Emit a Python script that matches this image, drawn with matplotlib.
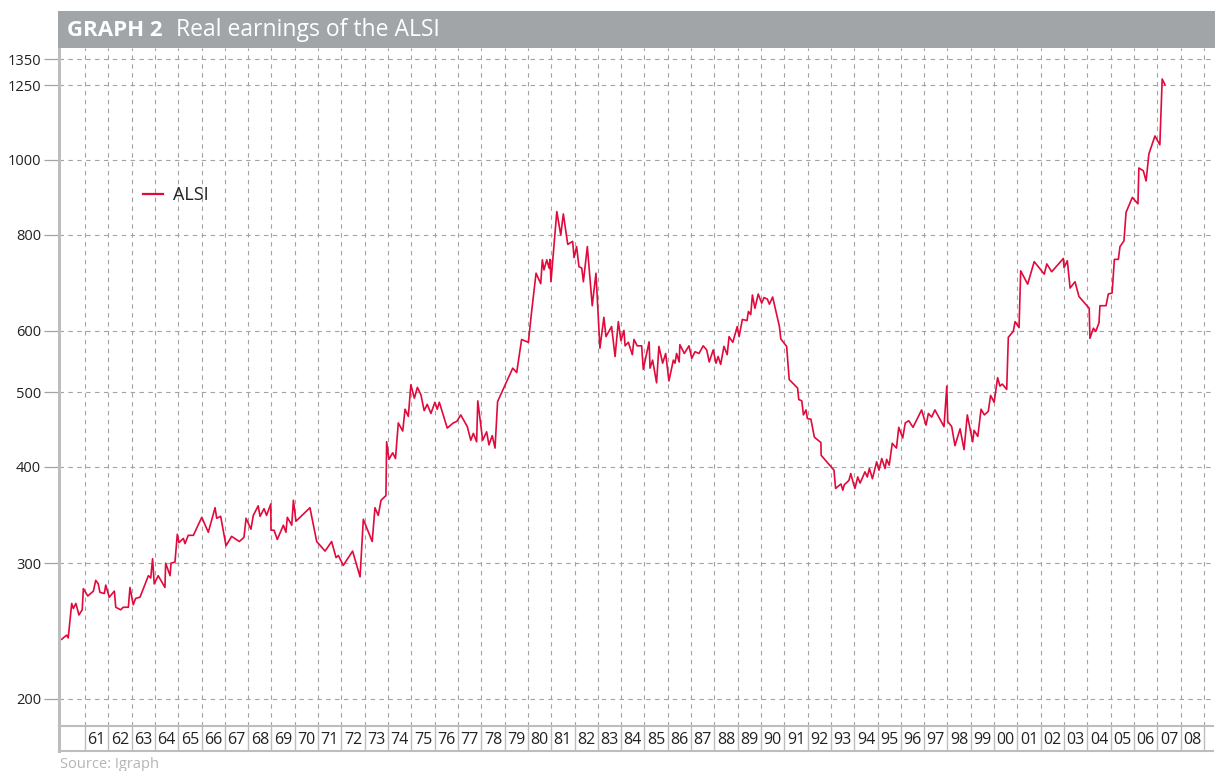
import matplotlib
matplotlib.use("Agg")
import matplotlib.pyplot as plt
from matplotlib.patches import Rectangle
from matplotlib.ticker import NullLocator

plt.rcParams['font.family'] = ['Open Sans', 'DejaVu Sans']

# ---------------- data ----------------
years = [1960.00,1960.21,1960.28,1960.43,1960.50,1960.61,1960.74,1960.88,1960.93,1961.12,
         1961.36,1961.46,1961.57,1961.64,1961.83,1961.89,1962.04,1962.26,1962.32,1962.53,
         1962.64,1962.86,1962.93,1963.07,1963.17,1963.36,1963.72,1963.82,1963.90,1963.97,
         1964.14,1964.43,1964.46,1964.65,1964.69,1964.86,1964.96,1965.03,1965.22,1965.29,
         1965.43,1965.65,1966.01,1966.29,1966.58,1966.65,1966.82,1967.05,1967.29,1967.62,
         1967.82,1967.91,1968.12,1968.22,1968.43,1968.51,1968.68,1968.79,1968.97,1968.98,
         1969.11,1969.25,1969.51,1969.62,1969.68,1969.87,1969.94,1970.05,1970.65,1970.94,
         1971.30,1971.58,1971.77,1971.87,1972.08,1972.48,1972.80,1972.94,1973.32,1973.44,
         1973.58,1973.70,1973.91,1973.94,1974.04,1974.20,1974.32,1974.44,1974.63,1974.73,
         1974.87,1974.98,1975.13,1975.26,1975.41,1975.55,1975.68,1975.84,1976.01,1976.11,
         1976.20,1976.54,1976.80,1976.95,1977.12,1977.40,1977.55,1977.66,1977.80,1977.85,
         1978.06,1978.23,1978.33,1978.47,1978.59,1978.70,1979.35,1979.52,1979.73,1980.02,
         1980.16,1980.35,1980.55,1980.62,1980.69,1980.81,1980.91,1980.95,1980.99,1981.24,
         1981.41,1981.52,1981.71,1981.92,1981.98,1982.09,1982.19,1982.31,1982.38,1982.55,
         1982.76,1982.92,1983.09,1983.26,1983.35,1983.59,1983.74,1983.88,1983.99,1984.12,
         1984.17,1984.31,1984.48,1984.55,1984.69,1984.88,1984.95,1985.20,1985.24,1985.35,
         1985.52,1985.62,1985.78,1985.91,1986.05,1986.24,1986.31,1986.38,1986.49,1986.52,
         1986.71,1986.91,1987.03,1987.17,1987.34,1987.52,1987.67,1987.78,1987.95,1988.07,
         1988.16,1988.27,1988.41,1988.55,1988.63,1988.79,1988.98,1989.06,1989.20,1989.40,
         1989.46,1989.56,1989.63,1989.74,1989.88,1990.03,1990.13,1990.27,1990.36,1990.50,
         1990.79,1990.85,1991.10,1991.21,1991.57,1991.62,1991.75,1991.82,1991.93,1991.99,
         1992.14,1992.29,1992.57,1992.58,1993.13,1993.20,1993.43,1993.51,1993.57,1993.77,
         1993.85,1993.96,1994.03,1994.15,1994.25,1994.46,1994.56,1994.65,1994.78,1994.96,
         1995.06,1995.18,1995.32,1995.39,1995.50,1995.63,1995.81,1995.91,1996.08,1996.19,
         1996.34,1996.52,1996.89,1997.08,1997.18,1997.32,1997.46,1997.85,1997.97,1998.01,
         1998.18,1998.32,1998.54,1998.71,1998.85,1999.08,1999.14,1999.30,1999.44,1999.58,
         1999.75,1999.85,2000.00,2000.15,2000.25,2000.35,2000.54,2000.61,2000.82,2000.90,
         2001.07,2001.14,2001.44,2001.72,2002.15,2002.26,2002.47,2002.97,2003.00,2003.14,
         2003.26,2003.47,2003.64,2004.08,2004.11,2004.26,2004.36,2004.50,2004.54,2004.80,
         2004.90,2005.06,2005.16,2005.33,2005.40,2005.57,2005.66,2005.93,2006.17,2006.21,
         2006.40,2006.52,2006.64,2006.90,2007.11,2007.21,2007.33]

alsi = [239,242,240,266,262,266,257,261,278,272,
        276,285,282,275,274,281,271,276,263,261,
        263,263,279,265,270,271,289,287,304,282,
        289,279,300,289,300,301,327,319,323,318,
        326,326,344,329,354,343,345,316,325,320,
        324,343,332,346,356,345,353,346,358,331,
        331,322,336,329,344,336,362,340,354,320,
        311,320,305,307,298,311,288,342,320,354,
        346,362,367,431,409,417,410,456,445,475,
        465,511,491,507,496,473,482,469,485,475,
        485,449,456,458,467,451,433,442,431,487,
        433,444,427,439,423,486,537,530,585,580,
        636,713,691,742,720,742,724,743,695,857,
        799,851,777,784,747,772,727,724,695,772,
        647,713,570,625,590,608,556,617,583,601,
        574,580,559,585,574,574,535,581,537,550,
        514,573,545,561,517,550,545,561,547,576,
        561,574,553,564,561,574,567,547,567,545,
        556,543,573,559,590,580,608,590,621,619,
        636,630,668,642,670,652,663,660,650,664,
        608,586,573,519,506,489,487,467,474,462,
        461,437,430,414,396,375,380,373,379,384,
        392,381,375,388,381,394,388,398,386,406,
        396,410,398,409,402,429,423,450,436,456,
        459,450,474,453,469,464,474,451,509,458,
        451,426,448,421,467,431,446,438,475,467,
        472,495,485,522,509,512,504,589,599,617,
        606,718,690,738,711,733,716,745,725,740,
        682,695,665,642,587,605,599,615,647,647,
        670,672,743,743,772,785,855,894,877,976,
        968,939,1018,1074,1046,1273,1251]

y_ticks = [200, 300, 400, 500, 600, 800, 1000, 1250, 1350]
year_labels = ['61', '62', '63', '64', '65', '66', '67', '68', '69', '70',
               '71', '72', '73', '74', '75', '76', '77', '78', '79', '80',
               '81', '82', '83', '84', '85', '86', '87', '88', '89', '90',
               '91', '92', '93', '94', '95', '96', '97', '98', '99', '00',
               '01', '02', '03', '04', '05', '06', '07', '08']
first_label_year = 1961
series_name = 'ALSI'
title_bold = 'GRAPH 2'
title_text = 'Real earnings of the ALSI'
source_text = 'Source: Igraph'

# ---------------- styling ----------------
W, H = 1215, 771
RED = '#E10A3C'
GRID = '#A3A3A3'
FRAME = '#BDBDBD'
BAR = '#A2A5A8'

fig = plt.figure(figsize=(W / 100, H / 100), dpi=100)


def fx(px):
    return px / W


def fy(py):
    return 1 - py / H


x_left, x_right = 1959.885, 2009.39

ax = fig.add_axes([fx(59), fy(726), fx(1213) - fx(59), fy(48) - fy(726)])
ax.plot(years, alsi, color=RED, lw=1.2, label=series_name)
ax.set_yscale('log')
ax.set_ylim(184.5, 1396.5)
ax.set_xlim(x_left, x_right)
ax.set_yticks(y_ticks)
ax.set_yticklabels([str(v) for v in y_ticks], fontsize=10.5, color='#222222')
ax.yaxis.set_minor_locator(NullLocator())
ax.tick_params(axis='y', length=11, width=0.9, color=GRID, pad=2)
grid_years = list(range(first_label_year, first_label_year + len(year_labels) + 1))
ax.set_xticks(grid_years)
ax.set_xticklabels([])
ax.xaxis.set_minor_locator(NullLocator())
ax.tick_params(axis='x', length=0)
ax.grid(True, which='major', axis='both', color=GRID, lw=0.8, ls=(0, (4, 4)))
for s in ['top', 'right', 'bottom']:
    ax.spines[s].set_visible(False)
ax.spines['left'].set_color(FRAME)
ax.spines['left'].set_linewidth(2.2)

leg = ax.legend(loc='center left', bbox_to_anchor=(0.0728, 0.783), frameon=False,
                handlelength=1.1, handletextpad=0.55, borderpad=0, borderaxespad=0,
                fontsize=13)
for t in leg.get_texts():
    t.set_color('#222222')
for h in leg.get_lines():
    h.set_linewidth(1.6)

# year band
band = fig.add_axes([fx(59), fy(751), fx(1213) - fx(59), fy(726) - fy(751)])
band.set_xlim(x_left, x_right)
band.set_ylim(0, 1)
band.set_xticks([])
band.set_yticks([])
band.vlines(grid_years, 0, 1, color=FRAME, lw=1.0)
for i, lab in enumerate(year_labels):
    band.text(first_label_year + i + 0.5, 0.45, lab, ha='center', va='center',
              fontsize=11.5, color='#222222')
band.spines['right'].set_visible(False)
for s in ['top', 'bottom']:
    band.spines[s].set_color(FRAME)
    band.spines[s].set_linewidth(1.5)
band.spines['left'].set_color(FRAME)
band.spines['left'].set_linewidth(2.2)

# title bar
fig.patches.append(Rectangle((fx(58), fy(48)), 1 - fx(58), fy(11) - fy(48),
                             transform=fig.transFigure, facecolor=BAR,
                             edgecolor='none', zorder=0))
fig.text(fx(67), fy(30), title_bold, color='white', fontsize=16, fontweight='bold',
         ha='left', va='center')
fig.text(fx(176), fy(30), title_text, color='white', fontsize=16.5,
         ha='left', va='center')

fig.text(fx(60), fy(757), source_text, color='#B5B5B5', fontsize=10.5,
         ha='left', va='top')

fig.savefig('out.png', dpi=100)
